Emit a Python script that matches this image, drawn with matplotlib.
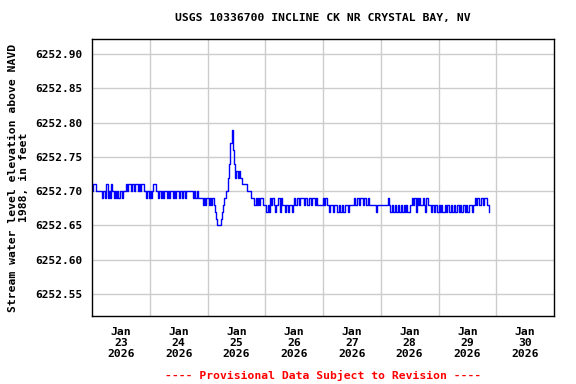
import numpy as np
import pandas as pd
import matplotlib
matplotlib.use("Agg")
import matplotlib.pyplot as plt

# gage height readings, hundredths of a foot above 6252.00, every 30 min from Jan 23 00:00
jan23 = [70, 71, 71, 70, 70, 70, 70, 70, 69, 70, 70, 69, 71, 69, 70, 69,
         71, 70, 69, 70, 69, 70, 69, 70, 70, 69, 70, 70, 71, 70, 71, 71,
         70, 71, 71, 70, 71, 71, 70, 71, 70, 71, 71, 70, 70, 69, 70, 69]
jan24 = [70, 69, 70, 71, 71, 70, 70, 69, 70, 69, 70, 69, 70, 70, 69, 70,
         69, 70, 70, 69, 70, 69, 70, 70, 69, 70, 70, 69, 70, 69, 70, 70,
         70, 70, 70, 70, 69, 70, 69, 70, 69, 69, 69, 69, 68, 69, 68, 69]
jan25 = [69, 68, 69, 68, 69, 68, 67, 66, 65, 65, 65, 66, 67, 68, 69, 70,
         70, 72, 74, 77, 79, 76, 74, 72, 73, 72, 73, 72, 72, 71, 71, 71,
         71, 70, 70, 70, 69, 69, 69, 68, 69, 68, 69, 68, 69, 69, 68, 68]
jan26 = [68, 67, 68, 67, 69, 68, 69, 68, 67, 68, 68, 69, 67, 69, 68, 68,
         67, 68, 68, 67, 68, 68, 67, 68, 69, 68, 69, 69, 68, 69, 69, 69,
         68, 69, 69, 68, 69, 69, 68, 69, 69, 68, 69, 68, 68, 68, 68, 68]
jan27 = [69, 68, 69, 68, 68, 67, 68, 68, 67, 68, 68, 68, 67, 68, 67, 67,
         68, 67, 68, 68, 68, 67, 68, 68, 68, 68, 69, 68, 69, 69, 68, 69,
         69, 68, 69, 69, 68, 69, 68, 68, 68, 68, 68, 68, 67, 68, 68, 68]
jan28 = [68, 68, 68, 68, 68, 68, 69, 68, 67, 68, 67, 67, 68, 67, 68, 67,
         67, 68, 67, 68, 67, 68, 67, 67, 68, 68, 69, 68, 69, 67, 69, 68,
         69, 68, 68, 69, 68, 67, 69, 68, 68, 68, 67, 68, 67, 68, 68, 67]
jan29 = [68, 67, 68, 67, 67, 68, 67, 68, 68, 67, 68, 67, 67, 68, 67, 68,
         68, 67, 68, 67, 68, 68, 67, 68, 67, 68, 68, 68, 67, 68, 69, 68,
         69, 69, 68, 69, 69, 68, 69, 69, 68, 68, 67]

hundredths = jan23 + jan24 + jan25 + jan26 + jan27 + jan28 + jan29
times = pd.date_range("2026-01-23 00:00", periods=len(hundredths), freq="30min")
level = 6252.0 + np.array(hundredths) / 100.0

y_ticks = [6252.55, 6252.60, 6252.65, 6252.70, 6252.75, 6252.80, 6252.85, 6252.90]
day_labels = ["Jan\n23\n2026", "Jan\n24\n2026", "Jan\n25\n2026", "Jan\n26\n2026",
              "Jan\n27\n2026", "Jan\n28\n2026", "Jan\n29\n2026", "Jan\n30\n2026"]

FONT = "DejaVu Sans Mono"

fig = plt.figure(figsize=(5.76, 3.84), dpi=100)
ax = fig.add_axes([92 / 576, 1 - 316 / 384, 462 / 576, 277 / 384])

ax.plot(times, level, color="#0000ff", lw=1.0, drawstyle="steps-post")

ax.set_xlim(pd.Timestamp("2026-01-23"), pd.Timestamp("2026-01-31"))
ax.set_ylim(6252.518, 6252.922)

# grid on midnights, labels at noon
ax.set_xticks(pd.date_range("2026-01-24", "2026-01-30", freq="D"))
ax.set_xticklabels([])
ax.set_xticks(pd.date_range("2026-01-23 12:00", periods=len(day_labels), freq="D"), minor=True)
ax.set_xticklabels(day_labels, minor=True, family=FONT, fontweight="bold",
                   fontsize=8.2, linespacing=1.1)
ax.set_yticks(y_ticks)
ax.set_yticklabels([f"{v:.2f}" for v in y_ticks], family=FONT,
                   fontweight="bold", fontsize=8.0)
ax.tick_params(which="both", length=0)
ax.tick_params(axis="x", which="minor", pad=8)
ax.tick_params(axis="y", pad=7)
ax.grid(True, which="major", color="#cccccc", lw=1.0)
ax.set_axisbelow(True)
for s in ax.spines.values():
    s.set_linewidth(1.0)
    s.set_color("black")

ax.set_title("USGS 10336700 INCLINE CK NR CRYSTAL BAY, NV", family=FONT,
             fontweight="bold", fontsize=8.2, pad=13)
ax.set_ylabel("Stream water level elevation above NAVD\n1988, in feet",
              family=FONT, fontweight="bold", fontsize=8.2, linespacing=1.15)
fig.text(0.561, 1 - 375 / 384, "---- Provisional Data Subject to Revision ----",
         color="red", ha="center", va="center", family=FONT,
         fontweight="bold", fontsize=8.2)

fig.savefig("out.png", dpi=100)
